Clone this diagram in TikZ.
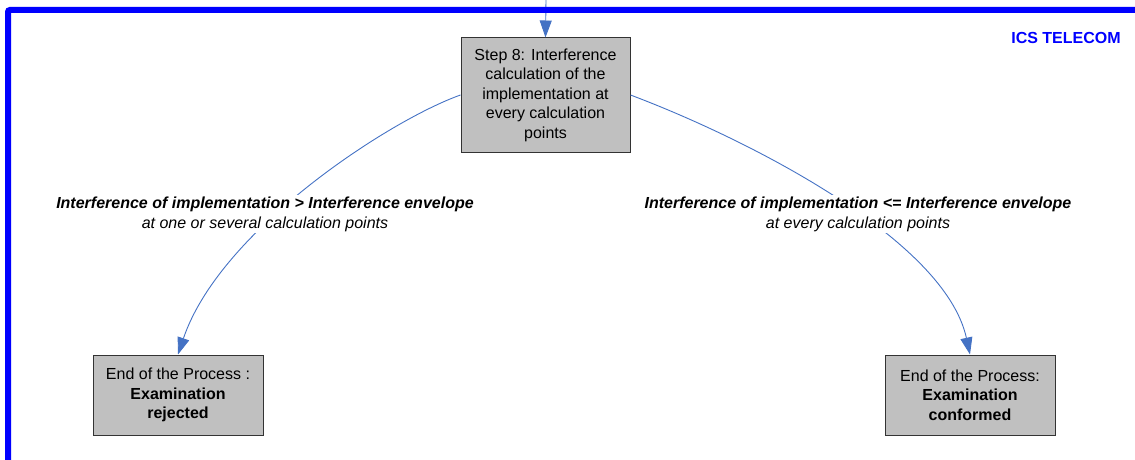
\documentclass[tikz,border=0pt]{standalone}
\usepackage{fontspec}
\setmainfont{Liberation Sans}
\usetikzlibrary{arrows.meta}
\definecolor{frameblue}{RGB}{0,0,255}
\definecolor{linkblue}{RGB}{68,114,196}
\definecolor{boxgray}{RGB}{192,192,192}
\begin{document}
\begin{tikzpicture}[x=1pt,y=-1pt,
  box/.style={draw=black!80, fill=boxgray, line width=1pt, inner sep=0pt, align=center, font=\fontsize{16}{19.5}\selectfont},
  link/.style={draw=linkblue, line width=0.9pt, -{Triangle[length=17pt,width=12pt]}, fill=none},
  cond/.style={fill=white, inner sep=2pt, align=center, font=\fontsize{16}{20}\selectfont}]
\useasboundingbox (0,0) rectangle (1135,460);
\clip (0,0) rectangle (1135,460);
\node[box, minimum width=169pt, minimum height=114pt] (step8) at (545.5,95) {Step 8: Interference\\calculation of the\\implementation at\\every calculation\\points};
\node[box, minimum width=170pt, minimum height=80pt] (rej) at (178,395) {End of the Process :\\\textbf{Examination}\\\textbf{rejected}};
\node[box, minimum width=170pt, minimum height=80pt] (conf) at (970,395) {End of the Process:\\\textbf{Examination}\\\textbf{conformed}};
\coordinate (top) at (546,0);
\draw[link] (top) -- (step8.north);
\draw[link] (step8.west) .. controls (390,120) and (220,230) .. (rej.north);
\draw[link] (step8.east) .. controls (750,140) and (945,240) .. (conf.north);
\node[cond] (lblL) at (265,214) {\textbf{\textit{Interference of implementation > Interference envelope}}\\\textit{at one or several calculation points}};
\node[cond] (lblR) at (858,214) {\textbf{\textit{Interference of implementation <= Interference envelope}}\\\textit{at every calculation points}};
\node[font=\bfseries\fontsize{16}{18}\selectfont, text=frameblue] (ics) at (1066,38) {ICS TELECOM};
\draw[frameblue, line width=6pt, rounded corners=2pt] (8,480) -- (8,10) -- (1160,10);
\end{tikzpicture}
\end{document}
